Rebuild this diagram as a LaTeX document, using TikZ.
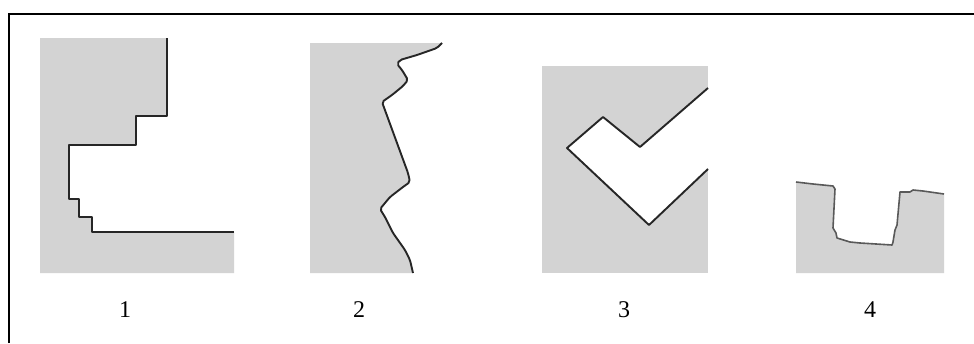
\documentclass[tikz,border=0pt]{standalone}
\usepackage{fontspec}
\setmainfont{Liberation Serif}
\usepackage{tikz}
\usetikzlibrary{positioning}

\definecolor{soil}{RGB}{211,211,211}

\begin{document}
\begin{tikzpicture}[x=1pt, y=-1pt,
    edge/.style={line width=1.9pt, black!85, line join=round},
    soft/.style={line width=1.6pt, black!65, line join=round},
    lab/.style={font=\fontsize{24}{28}\selectfont}]
  \useasboundingbox (0,0) rectangle (974,343);

  % frame
  \draw[line width=1.8pt] (9,343) -- (9,14) -- (974,14);

  % 1: stepped cut
  \fill[soil] (40,38) -- (167,38) -- (167,116) -- (136,116) -- (136,145) -- (69,145)
    -- (69,199) -- (79,199) -- (79,217) -- (92,217) -- (92,232) -- (234,232)
    -- (234,273) -- (40,273) -- cycle;
  \draw[edge] (167,38) -- (167,116) -- (136,116) -- (136,145) -- (69,145)
    -- (69,199) -- (79,199) -- (79,217) -- (92,217) -- (92,232) -- (234,232);

  % 2: rough face
  \fill[soil] (310,43) -- (442,43) -- (437,48) -- (417,55) -- (400,60) -- (397,64)
    -- (402,70) -- (408,80) -- (403,86) -- (392,95) -- (382,102) -- (408,173)
    -- (410,182) -- (403,187) -- (390,197) -- (380,209) -- (385,217) -- (393,233)
    -- (405,250) -- (410,260) -- (413,273) -- (310,273) -- cycle;
  \draw[edge, rounded corners=2pt] (442,43) -- (437,48) -- (417,55) -- (400,60) -- (397,64)
    -- (402,70) -- (408,80) -- (403,86) -- (392,95) -- (382,102) -- (408,173)
    -- (410,182) -- (403,187) -- (390,197) -- (380,209) -- (385,217) -- (393,233)
    -- (405,250) -- (410,260) -- (413,273);

  % 3: notch
  \fill[soil] (542,66) rectangle (708,273);
  \fill[white] (708,88) -- (640,147) -- (603,117) -- (567,148) -- (649,225)
    -- (708,169) -- cycle;
  \draw[edge] (708,88) -- (640,147) -- (603,117) -- (567,148) -- (649,225) -- (708,169);

  % 4: trench
  \fill[soil] (796,182) -- (813,184) -- (833,186) -- (835,189) -- (833,228) -- (836,233)
    -- (837,238) -- (850,242) -- (860,243) -- (892,245) -- (893,242) -- (895,230)
    -- (897,225) -- (900,192) -- (910,192) -- (913,190) -- (923,191) -- (944,194)
    -- (944,273) -- (796,273) -- cycle;
  \draw[soft] (796,182) -- (813,184) -- (833,186) -- (835,189) -- (833,228) -- (836,233)
    -- (837,238) -- (850,242) -- (860,243) -- (892,245) -- (893,242) -- (895,230)
    -- (897,225) -- (900,192) -- (910,192) -- (913,190) -- (923,191) -- (944,194);

  % labels
  \foreach \k/\x in {1/125, 2/359, 3/624, 4/870} {
    \node[lab] (lab\k) at (\x,310) {\k};
  }
\end{tikzpicture}
\end{document}
